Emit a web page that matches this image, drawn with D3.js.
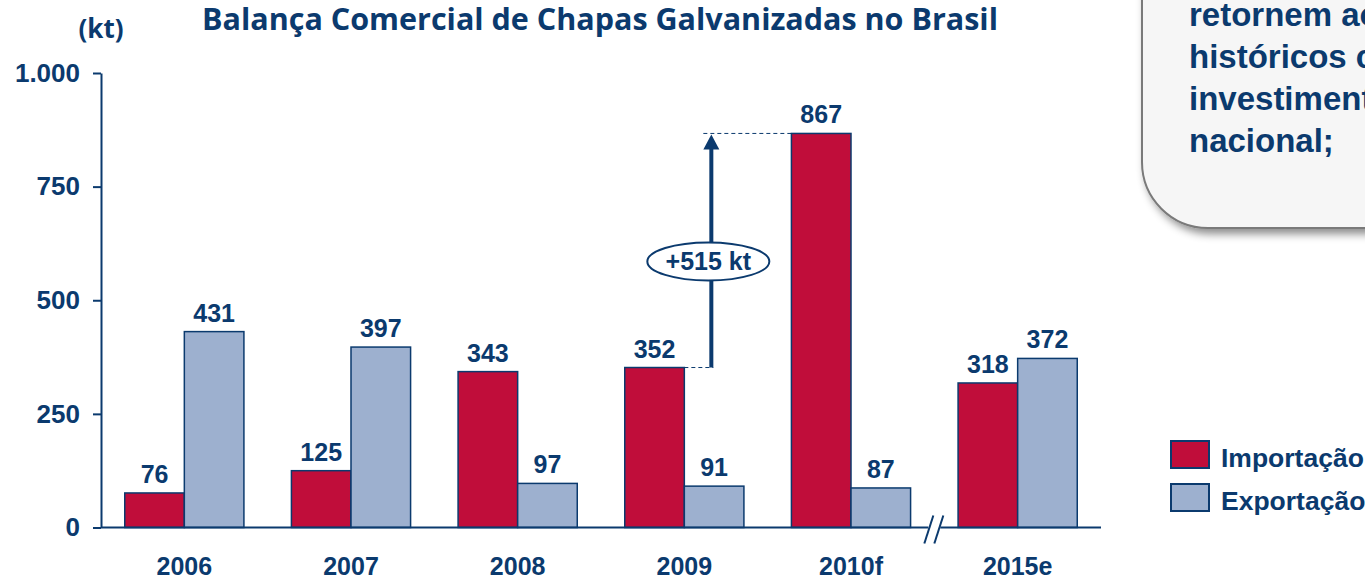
<!DOCTYPE html>
<html>
<head>
<meta charset="utf-8">
<script src="https://cdn.jsdelivr.net/npm/d3@7"></script>
<style>
  body { margin: 0; background: #fff; }
  svg { display: block; }
</style>
</head>
<body>
<svg id="chart"></svg>
<script>
// data
var categories = ["2006", "2007", "2008", "2009", "2010f", "2015e"];
var importacao = [76, 125, 343, 352, 867, 318];
var exportacao = [431, 397, 97, 91, 87, 372];
var yTicks = [0, 250, 500, 750, 1000];
var seriesNames = ["Importação", "Exportação"];
var calloutLines = ["retornem aos", "históricos com", "investimentos", "nacional;"];
var deltaLabel = "+515 kt";

var navy = "#0b3a6e", red = "#c00d3a", blue = "#9db0cf";
var arial = "'Liberation Sans', Arial, sans-serif";

var svgWidth = 1365, svgHeight = 579;
var svg = d3.select("#chart").attr("width", svgWidth).attr("height", svgHeight);

var x = d3.scaleBand()
    .domain(categories)
    .range([101, 1101])
    .paddingInner(0.285)
    .paddingOuter(0.1425);

var sub = d3.scaleBand()
    .domain(seriesNames)
    .range([0, x.bandwidth()]);

var y = d3.scaleLinear()
    .domain([0, 1000])
    .range([527.5, 73]);

var ptBR = d3.formatLocale({decimal: ",", thousands: ".", grouping: [3], currency: ["R$", ""]});

// callout box (top right, clipped by the page like in the slide)
var defs = svg.append("defs");
var f = defs.append("filter").attr("id", "shadow").attr("x", "-20%").attr("y", "-20%").attr("width", "140%").attr("height", "140%");
f.append("feDropShadow").attr("dx", 4).attr("dy", 5).attr("stdDeviation", 4).attr("flood-color", "#000").attr("flood-opacity", 0.45);

svg.append("rect")
    .attr("x", 1142).attr("y", -80)
    .attr("width", 300).attr("height", 308)
    .attr("rx", 66).attr("ry", 66)
    .attr("fill", "#f6f6f6")
    .attr("stroke", "#7a7a7a")
    .attr("stroke-width", 2)
    .attr("filter", "url(#shadow)");

svg.append("g").selectAll("text")
    .data(calloutLines)
    .enter().append("text")
    .attr("x", 1189)
    .attr("y", function(d, i) { return 26 + i * 42; })
    .attr("fill", navy)
    .attr("font-family", arial)
    .attr("font-weight", "bold")
    .attr("font-size", 33)
    .text(function(d) { return d; });

// title and unit
svg.append("text")
    .attr("x", 600).attr("y", 30)
    .attr("text-anchor", "middle")
    .attr("fill", navy)
    .attr("font-family", "'Open Sans', sans-serif")
    .attr("font-weight", "bold")
    .attr("font-size", 30.5)
    .text("Balança Comercial de Chapas Galvanizadas no Brasil");

svg.append("text")
    .attr("x", 101).attr("y", 38)
    .attr("text-anchor", "middle")
    .attr("fill", navy)
    .attr("font-family", "'Open Sans', sans-serif")
    .attr("font-weight", "bold")
    .attr("font-size", 26)
    .text("(kt)");

// y axis
var yAxis = svg.append("g")
    .attr("transform", "translate(101,0)")
    .call(d3.axisLeft(y).tickValues(yTicks).tickSize(8).tickSizeOuter(0).tickPadding(13)
        .tickFormat(ptBR.format(",d")));
yAxis.select(".domain").attr("stroke", navy).attr("stroke-width", 2);
yAxis.selectAll(".tick line").attr("stroke", navy).attr("stroke-width", 2);
yAxis.selectAll(".tick text")
    .attr("fill", navy)
    .attr("font-family", arial)
    .attr("font-weight", "bold")
    .attr("font-size", 26);

// bars
var groups = svg.append("g").selectAll("g")
    .data(categories)
    .enter().append("g")
    .attr("transform", function(d) { return "translate(" + x(d) + ",0)"; });

var barData = function(d, i) {
    return [
        {name: seriesNames[0], value: importacao[i], color: red},
        {name: seriesNames[1], value: exportacao[i], color: blue}
    ];
};

groups.selectAll("rect")
    .data(function(d, i) { return barData(d, i); })
    .enter().append("rect")
    .attr("x", function(d) { return sub(d.name); })
    .attr("y", function(d) { return y(d.value); })
    .attr("width", sub.bandwidth())
    .attr("height", function(d) { return y(0) - y(d.value); })
    .attr("fill", function(d) { return d.color; })
    .attr("stroke", navy)
    .attr("stroke-width", 1.5);

groups.selectAll("text.val")
    .data(function(d, i) { return barData(d, i); })
    .enter().append("text")
    .attr("class", "val")
    .attr("x", function(d) { return sub(d.name) + sub.bandwidth() / 2; })
    .attr("y", function(d) { return y(d.value) - 10; })
    .attr("text-anchor", "middle")
    .attr("fill", navy)
    .attr("font-family", arial)
    .attr("font-weight", "bold")
    .attr("font-size", 25)
    .text(function(d) { return d.value; });

// x axis line with break between 2010f and 2015e
var breakX = (x("2010f") + x.bandwidth() + x("2015e")) / 2;
svg.append("line")
    .attr("x1", 101).attr("x2", breakX - 6)
    .attr("y1", y(0)).attr("y2", y(0))
    .attr("stroke", navy).attr("stroke-width", 2);
svg.append("line")
    .attr("x1", breakX + 6).attr("x2", 1101)
    .attr("y1", y(0)).attr("y2", y(0))
    .attr("stroke", navy).attr("stroke-width", 2);
[-5, 5].forEach(function(o) {
    svg.append("line")
        .attr("x1", breakX + o - 5).attr("y1", y(0) + 16)
        .attr("x2", breakX + o + 4).attr("y2", y(0) - 12)
        .attr("stroke", navy).attr("stroke-width", 2);
});

svg.append("g").selectAll("text")
    .data(categories)
    .enter().append("text")
    .attr("x", function(d) { return x(d) + x.bandwidth() / 2; })
    .attr("y", 575)
    .attr("text-anchor", "middle")
    .attr("fill", navy)
    .attr("font-family", arial)
    .attr("font-weight", "bold")
    .attr("font-size", 25)
    .text(function(d) { return d; });

// growth arrow 2009 -> 2010f
var i09 = categories.indexOf("2009"), i10 = categories.indexOf("2010f");
var impRight09 = x("2009") + sub.bandwidth();
var arrowX = impRight09 + 27;
var yLow = y(importacao[i09]), yHigh = y(importacao[i10]);

svg.append("line")
    .attr("x1", impRight09).attr("x2", arrowX + 2)
    .attr("y1", yLow).attr("y2", yLow)
    .attr("stroke", navy).attr("stroke-width", 1).attr("stroke-dasharray", "4,3");
svg.append("line")
    .attr("x1", arrowX - 8).attr("x2", x("2010f"))
    .attr("y1", yHigh).attr("y2", yHigh)
    .attr("stroke", navy).attr("stroke-width", 1).attr("stroke-dasharray", "4,3");

svg.append("line")
    .attr("x1", arrowX).attr("x2", arrowX)
    .attr("y1", yLow).attr("y2", yHigh + 14)
    .attr("stroke", navy).attr("stroke-width", 4);
svg.append("path")
    .attr("d", "M" + arrowX + "," + (yHigh + 1) + " L" + (arrowX - 8) + "," + (yHigh + 16) + " L" + (arrowX + 8) + "," + (yHigh + 16) + " Z")
    .attr("fill", navy);

var midY = y((importacao[i09] + importacao[i10]) / 2) + 11;
svg.append("ellipse")
    .attr("cx", arrowX - 3).attr("cy", midY)
    .attr("rx", 61).attr("ry", 19)
    .attr("fill", "#fff")
    .attr("stroke", navy).attr("stroke-width", 2);
svg.append("text")
    .attr("x", arrowX - 3).attr("y", midY + 9)
    .attr("text-anchor", "middle")
    .attr("fill", navy)
    .attr("font-family", arial)
    .attr("font-weight", "bold")
    .attr("font-size", 25)
    .text(deltaLabel);

// legend
var legend = svg.append("g").selectAll("g")
    .data(seriesNames)
    .enter().append("g")
    .attr("transform", function(d, i) { return "translate(1171," + (441 + i * 43) + ")"; });
legend.append("rect")
    .attr("width", 38).attr("height", 27)
    .attr("fill", function(d, i) { return i === 0 ? red : blue; })
    .attr("stroke", navy).attr("stroke-width", 2);
legend.append("text")
    .attr("x", 50).attr("y", 26)
    .attr("fill", navy)
    .attr("font-family", arial)
    .attr("font-weight", "bold")
    .attr("font-size", 26.5)
    .text(function(d) { return d; });
</script>
</body>
</html>
